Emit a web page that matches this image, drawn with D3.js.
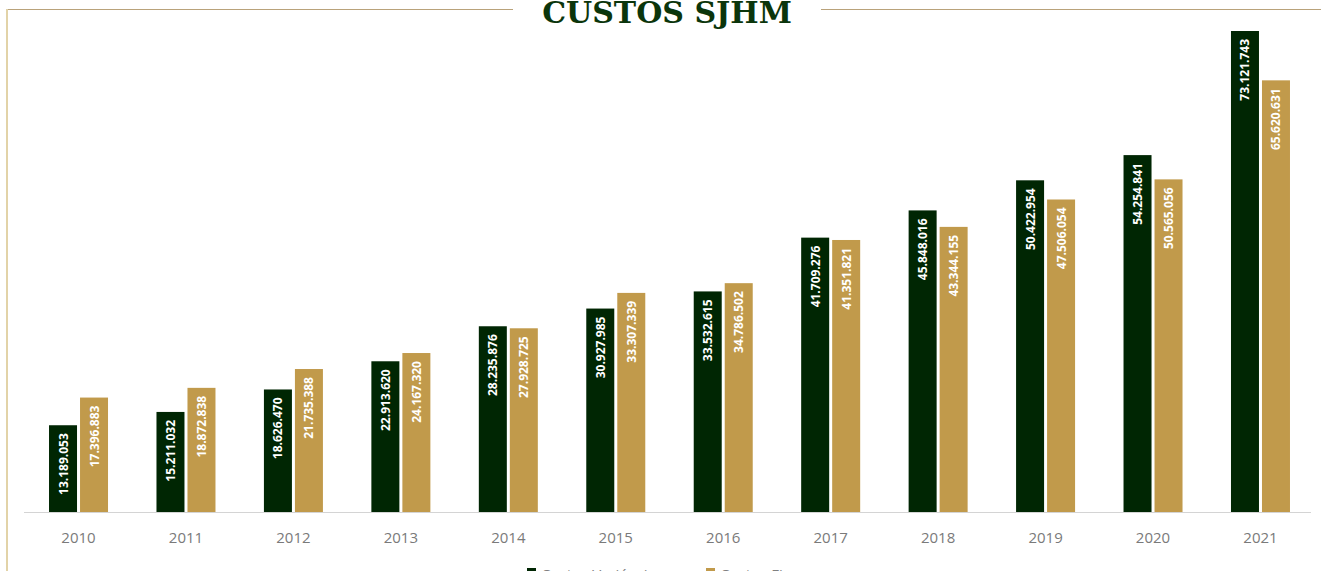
<!DOCTYPE html>
<html>
<head>
<meta charset="utf-8">
<script src="https://cdn.jsdelivr.net/npm/d3@7"></script>
<style>
  html, body { margin: 0; padding: 0; background: #ffffff; }
  svg { display: block; }
</style>
</head>
<body>
<svg id="chart" width="1321" height="571"></svg>
<script>
const years = ["2010","2011","2012","2013","2014","2015","2016","2017","2018","2019","2020","2021"];
const seriesNames = ["Custos Variáveis", "Custos Fixos"];
const custosVariaveis = [13189053, 15211032, 18626470, 22913620, 28235876, 30927985, 33532615, 41709276, 45848016, 50422954, 54254841, 73121743];
const custosFixos = [17396883, 18872838, 21735388, 24167320, 27928725, 33307339, 34786502, 41351821, 43344155, 47506054, 50565056, 65620631];
const seriesColors = ["#002603", "#c19a4b"];
const title = "CUSTOS SJHM";

const values = [custosVariaveis, custosFixos];
const data = years.map((y, i) => ({ year: y, vals: seriesNames.map((s, k) => ({ key: s, k, value: values[k][i] })) }));

const svg = d3.select("#chart");

// Frame
svg.append("line").attr("x1", 7).attr("x2", 513).attr("y1", 9.5).attr("y2", 9.5)
  .attr("stroke", "#b9a27a").attr("stroke-width", 1);
svg.append("line").attr("x1", 821).attr("x2", 1321).attr("y1", 9.5).attr("y2", 9.5)
  .attr("stroke", "#b9a27a").attr("stroke-width", 1);
svg.append("line").attr("x1", 7).attr("x2", 7).attr("y1", 9).attr("y2", 571)
  .attr("stroke", "#e2d3a8").attr("stroke-width", 2);

// Title
svg.append("text").attr("x", 667).attr("y", 23).attr("text-anchor", "middle")
  .attr("font-family", "'DejaVu Serif', 'Liberation Serif', serif").attr("font-weight", "bold")
  .attr("font-size", 30).attr("fill", "#0b350b").text(title);

const baseY = 512;
const x0 = d3.scaleBand().domain(years).range([24.8, 1314.2]).paddingInner(0).paddingOuter(0);
const x1 = d3.scaleBand().domain(seriesNames).range([-29.5, 29.5]).paddingInner(0.0968).paddingOuter(0);
const y = d3.scaleLinear().domain([0, 73121743]).range([baseY, 31]);

const groups = svg.append("g").selectAll("g").data(data).join("g")
  .attr("transform", d => `translate(${x0(d.year) + x0.bandwidth() / 2},0)`);

groups.selectAll("rect").data(d => d.vals).join("rect")
  .attr("x", d => x1(d.key))
  .attr("width", x1.bandwidth())
  .attr("y", d => y(d.value))
  .attr("height", d => baseY - y(d.value))
  .attr("fill", d => seriesColors[d.k]);

const fmt = v => d3.format(",")(v).replace(/,/g, ".");
groups.selectAll("text.lbl").data(d => d.vals).join("text")
  .attr("class", "lbl")
  .attr("transform", d => `translate(${x1(d.key) + x1.bandwidth() / 2 + 4.5},${y(d.value) + 8}) rotate(-90)`)
  .attr("text-anchor", "end")
  .attr("font-family", "'Open Sans', sans-serif").attr("font-weight", "bold")
  .attr("font-size", 12).attr("fill", "#ffffff")
  .text(d => fmt(d.value));

// Axis
svg.append("line").attr("x1", 24).attr("x2", 1311).attr("y1", baseY + 0.5).attr("y2", baseY + 0.5)
  .attr("stroke", "#d4d4d4").attr("stroke-width", 1);

const xAxis = svg.append("g").attr("transform", `translate(0,${baseY})`)
  .call(d3.axisBottom(x0).tickSize(0).tickPadding(0));
xAxis.select(".domain").remove();
xAxis.selectAll("text")
  .attr("y", 31).attr("dy", 0)
  .attr("font-family", "'Open Sans', sans-serif").attr("font-size", 15)
  .attr("fill", "#7a7a7a");

// Legend
const legendX = [527, 706];
const legend = svg.append("g");
seriesNames.forEach((s, k) => {
  legend.append("rect").attr("x", legendX[k]).attr("y", 568).attr("width", 9).attr("height", 9)
    .attr("fill", seriesColors[k]);
  legend.append("text").attr("x", legendX[k] + 14).attr("y", 580)
    .attr("font-family", "'Open Sans', sans-serif").attr("font-size", 15)
    .attr("fill", "#808080").text(s);
});
</script>
</body>
</html>
